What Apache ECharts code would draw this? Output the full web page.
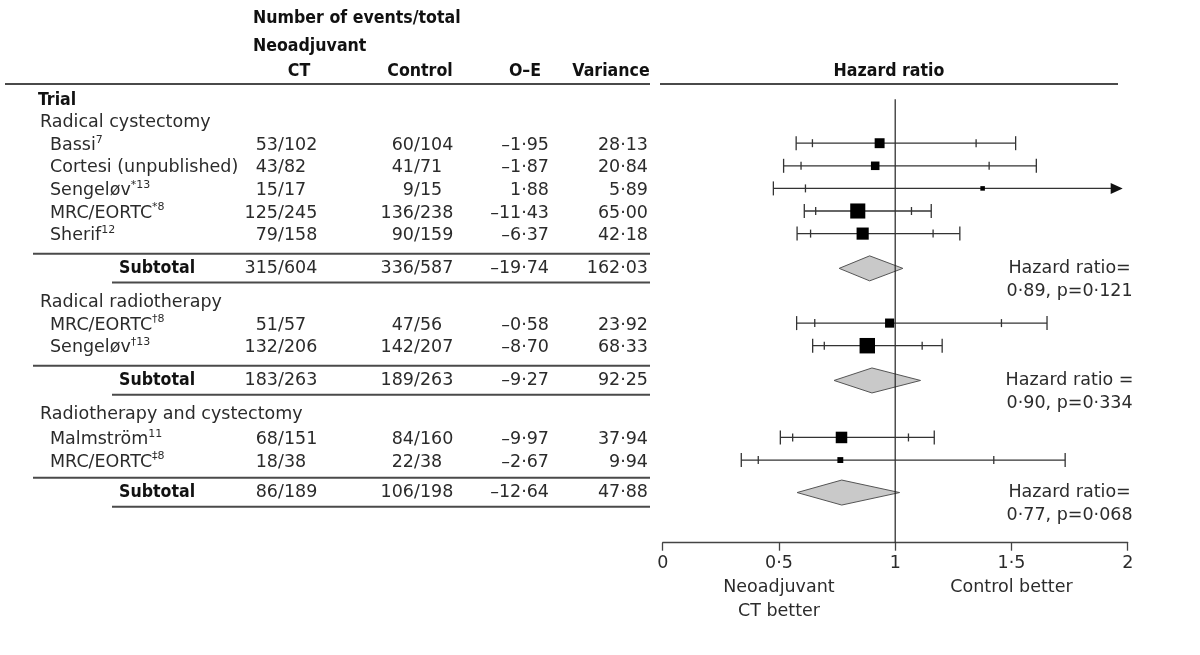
<!DOCTYPE html>
<html><head><meta charset="utf-8">
<script src="https://cdn.jsdelivr.net/npm/echarts@6/dist/echarts.min.js"></script>
<style>html,body{margin:0;padding:0;background:#fff}#c{width:1200px;height:655px}</style>
</head><body><div id="c"></div>
<script>
// ---------------- data ----------------
const groupNames = ['Radical cystectomy', 'Radical radiotherapy', 'Radiotherapy and cystectomy'];
const trialNames = ['Bassi', 'Cortesi (unpublished)', 'Sengeløv', 'MRC/EORTC', 'Sherif', 'MRC/EORTC', 'Sengeløv', 'Malmström', 'MRC/EORTC'];
const trialRefs = ['7', '', '*13', '*8', '12', '†8', '†13', '11', '‡8'];
const trialGroup = [0, 0, 0, 0, 0, 1, 1, 2, 2];
const ctEvents = ['53/102', '43/82', '15/17', '125/245', '79/158', '51/57', '132/206', '68/151', '18/38'];
const controlEvents = ['60/104', '41/71', '9/15', '136/238', '90/159', '47/56', '142/207', '84/160', '22/38'];
const oMinusE = [-1.95, -1.87, 1.88, -11.43, -6.37, -0.58, -8.70, -9.97, -2.67];
const variance = [28.13, 20.84, 5.89, 65.00, 42.18, 23.92, 68.33, 37.94, 9.94];
const hazardRatio = [0.933, 0.914, 1.376, 0.839, 0.860, 0.976, 0.880, 0.769, 0.764];
const ci95Low = [0.644, 0.595, 0.614, 0.658, 0.636, 0.654, 0.695, 0.559, 0.411];
const ci95High = [1.348, 1.404, 3.086, 1.070, 1.163, 1.457, 1.116, 1.057, 1.424];
const ci99Low = [0.574, 0.520, 0.476, 0.609, 0.578, 0.576, 0.645, 0.506, 0.338];
const ci99High = [1.518, 1.607, 3.977, 1.155, 1.278, 1.653, 1.202, 1.168, 1.731];

const subtotalCT = ['315/604', '183/263', '86/189'];
const subtotalControl = ['336/587', '189/263', '106/198'];
const subtotalOE = [-19.74, -9.27, -12.64];
const subtotalVariance = [162.03, 92.25, 47.88];
const subtotalHR = [0.89, 0.90, 0.77];
const subtotalLow = [0.759, 0.737, 0.578];
const subtotalHigh = [1.033, 1.109, 1.019];
const subtotalP = ['0·121', '0·334', '0·068'];
const subtotalHRLabel = ['Hazard ratio=', 'Hazard ratio =', 'Hazard ratio='];

const hrTicks = [0, 0.5, 1, 1.5, 2];
const tickNotes = { '0.5': ['Neoadjuvant', 'CT better'], '1.5': ['Control better'] };
const headerTitle = 'Number of events/total';
const headerSub = 'Neoadjuvant';
const columnHeads = ['CT', 'Control', 'O–E', 'Variance'];
const plotTitle = 'Hazard ratio';

// ---------------- layout ----------------
const UNIT = 22.6;                 // px per row
const AXIS_Y = 542.7;              // px of x axis line
const Y_MIN = -100 / UNIT;
const Y_MAX = Y_MIN + AXIS_Y / UNIT;
const PLOT_L = 662.7, PLOT_R = 1127.7;
const COL = { trialHead: 38, group: 40, name: 50, subtotal: 119, ctSlash: 278, ctrlSlash: 414,
  oeRight: 549, varRight: 648, headLeft: 253, heads: [299, 420, 525, 611], hrHead: 889, annotX: 1.75 };
const RULE = { fullL: 5, fullR: 650, trialL: 33, subL: 112, hrL: 660, hrR: 1118 };
const HEAD_ROWS = { title: -3.63, sub: -2.39, cols: -1.28, rule: -0.71 };

const BODY_FONT = '"DejaVu Sans", "Noto Sans", sans-serif';
const BODY_SIZE = 17.5;
const HEAD_FONT = '"DejaVu Sans Condensed", "Liberation Sans Narrow", "Liberation Sans", sans-serif';
const TXT = '#2b2b2b';

// compute row positions
let pos = 0;
const groupY = [], trialY = [], subY = [], ruleA = [], ruleB = [];
groupNames.forEach((g, gi) => {
  pos += gi === 0 ? 1 : 0.88;
  groupY[gi] = pos;
  trialGroup.forEach((tg, ti) => { if (tg === gi) { pos += (gi === 2 && tg === 2 && trialY.length === 7) ? 1.1 : 1; trialY[ti] = pos; } });
  pos += gi === 2 ? 0.7 : 0.8; ruleA[gi] = pos;
  pos += 0.65; subY[gi] = pos;
  pos += 0.63; ruleB[gi] = pos;
});

const fmt = v => (v < 0 ? '–' : '') + Math.abs(v).toFixed(2).replace('.', '·');
const fmtTick = v => String(v).replace('.', '·');

// ---------------- text items ----------------
const texts = [];
function txt(x, y, text, align, extra) {
  const position = align === 'left' ? 'right' : align === 'right' ? 'left' : 'inside';
  texts.push({ value: [x, y], label: Object.assign({ show: true, position, distance: 0, formatter: text,
    fontFamily: BODY_FONT, fontSize: BODY_SIZE, color: TXT }, extra || {}) });
}
const bold = { fontFamily: HEAD_FONT, fontWeight: 'bold', fontSize: 17.6, color: '#111' };
const frac = (anchor, y, s) => { const [a, b] = s.split('/'); txt(anchor, y, a, 'right'); txt(anchor, y, '/' + b, 'left'); };

txt(COL.headLeft, HEAD_ROWS.title, headerTitle, 'left', bold);
txt(COL.headLeft, HEAD_ROWS.sub, headerSub, 'left', bold);
columnHeads.forEach((h, i) => txt(COL.heads[i], HEAD_ROWS.cols, h, 'center', bold));
txt(COL.hrHead, HEAD_ROWS.cols, plotTitle, 'center', bold);
txt(COL.trialHead, 0, 'Trial', 'left', bold);

const nameRich = { n: { fontFamily: BODY_FONT, fontSize: BODY_SIZE, color: TXT, lineHeight: 22 },
  s: { fontFamily: BODY_FONT, fontSize: 11, color: TXT, lineHeight: 12, verticalAlign: 'top' } };

groupNames.forEach((g, gi) => {
  txt(COL.group, groupY[gi], g, 'left');
  txt(COL.subtotal, subY[gi], 'Subtotal', 'left', bold);
  frac(COL.ctSlash, subY[gi], subtotalCT[gi]);
  frac(COL.ctrlSlash, subY[gi], subtotalControl[gi]);
  txt(COL.oeRight, subY[gi], fmt(subtotalOE[gi]), 'right');
  txt(COL.varRight, subY[gi], fmt(subtotalVariance[gi]), 'right');
});
trialNames.forEach((n, i) => {
  const label = '{n|' + n + '}' + (trialRefs[i] ? '{s|' + trialRefs[i] + '}' : '');
  txt(COL.name, trialY[i], label, 'left', { rich: nameRich });
  frac(COL.ctSlash, trialY[i], ctEvents[i]);
  frac(COL.ctrlSlash, trialY[i], controlEvents[i]);
  txt(COL.oeRight, trialY[i], fmt(oMinusE[i]), 'right');
  txt(COL.varRight, trialY[i], fmt(variance[i]), 'right');
});

// rules
const rules = [[RULE.fullL, RULE.fullR, HEAD_ROWS.rule], [RULE.hrL, RULE.hrR, HEAD_ROWS.rule]];
groupNames.forEach((g, gi) => { rules.push([RULE.trialL, RULE.fullR, ruleA[gi]]); rules.push([RULE.subL, RULE.fullR, ruleB[gi]]); });

// annotations in plot
const annots = groupNames.map((g, gi) => ({
  value: [COL.annotX, subY[gi] + 0.5],
  label: { show: true, position: 'inside', formatter: '{a|' + subtotalHRLabel[gi] + '}\n{a|' + fmtTick(subtotalHR[gi].toFixed(2)) + ', p=' + subtotalP[gi] + '}',
    rich: { a: { fontFamily: BODY_FONT, fontSize: BODY_SIZE, color: TXT, lineHeight: 23, align: 'center' } } }
}));

// ---------------- chart ----------------
const chart = echarts.init(document.getElementById('c'), null, { renderer: 'canvas' });
const yAxisCommon = { type: 'value', min: Y_MIN, max: Y_MAX, inverse: true, show: false };
const textSeries = { type: 'scatter', symbolSize: 0, silent: true, clip: false, z: 5,
  itemStyle: { opacity: 1 }, emphasis: { disabled: true } };
chart.setOption({
  animation: false,
  backgroundColor: '#fff',
  grid: [
    { left: 0, right: 0, top: 0, bottom: 655 - AXIS_Y },
    { left: PLOT_L, right: 1200 - PLOT_R, top: 0, bottom: 655 - AXIS_Y }
  ],
  xAxis: [
    { gridIndex: 0, type: 'value', min: 0, max: 1200, show: false },
    { gridIndex: 1, type: 'value', position: 'bottom', min: hrTicks[0], max: hrTicks[hrTicks.length - 1], interval: 0.5,
      splitLine: { show: false },
      axisLine: { show: true, onZero: false, lineStyle: { color: '#444', width: 1.3 } },
      axisTick: { show: true, length: 8, lineStyle: { color: '#444', width: 1.3 } },
      axisLabel: { margin: 9, formatter: v => {
          const notes = tickNotes[String(v)];
          let s = '{t|' + fmtTick(v) + '}';
          if (notes) s += '\n' + notes.map(n => '{t|' + n + '}').join('\n');
          return s;
        },
        rich: { t: { fontFamily: BODY_FONT, fontSize: BODY_SIZE, color: TXT, lineHeight: 24, align: 'center' } } } }
  ],
  yAxis: [Object.assign({ gridIndex: 0 }, yAxisCommon), Object.assign({ gridIndex: 1 }, yAxisCommon)],
  series: [
    { type: 'custom', xAxisIndex: 0, yAxisIndex: 0, clip: false, silent: true, z: 1,
      data: rules,
      renderItem(params, api) {
        const a = api.coord([api.value(0), api.value(2)]);
        const b = api.coord([api.value(1), api.value(2)]);
        return { type: 'line', shape: { x1: a[0], y1: a[1], x2: b[0], y2: b[1] }, style: { stroke: '#4a4a4a', lineWidth: 2 } };
      } },
    Object.assign({ xAxisIndex: 0, yAxisIndex: 0, data: texts }, textSeries),
    // diamonds
    { type: 'custom', xAxisIndex: 1, yAxisIndex: 1, clip: false, silent: true, z: 2,
      data: groupNames.map((g, gi) => [subtotalLow[gi], subtotalHR[gi], subtotalHigh[gi], subY[gi]]),
      encode: { x: [0, 1, 2], y: 3 },
      renderItem(params, api) {
        const y = api.coord([0, api.value(3)])[1];
        const lo = api.coord([api.value(0), 0])[0], c = api.coord([api.value(1), 0])[0], hi = api.coord([api.value(2), 0])[0];
        const h = 12.5;
        return { type: 'polygon', shape: { points: [[lo, y], [c, y - h], [hi, y], [c, y + h]] },
          style: { fill: '#c9c9c9', stroke: '#555', lineWidth: 1 } };
      } },
    // reference line at HR = 1
    { type: 'line', xAxisIndex: 1, yAxisIndex: 1, symbol: 'none', silent: true, z: 3,
      data: [[1, -0.03], [1, Y_MAX]], lineStyle: { color: '#222', width: 1.2 } },
    // trials
    { type: 'custom', xAxisIndex: 1, yAxisIndex: 1, clip: false, silent: true, z: 4,
      data: trialNames.map((n, i) => [ci99Low[i], ci95Low[i], hazardRatio[i], ci95High[i], ci99High[i], trialY[i], variance[i]]),
      encode: { x: [0, 1, 2, 3, 4], y: 5 },
      renderItem(params, api) {
        const xMax = hrTicks[hrTicks.length - 1];
        const y = api.coord([0, api.value(5)])[1] - 2;
        const px = v => api.coord([Math.min(v, xMax), 0])[0];
        const ls = { stroke: '#333', lineWidth: 1.3 };
        const kids = [];
        const hi95 = api.value(3), hi99 = api.value(4);
        const lo99 = px(api.value(0)), lo95 = px(api.value(1)), c = px(api.value(2));
        const clipped = hi99 > xMax;
        const tip = px(xMax) - 5;
        const right = clipped ? tip - 11 : px(hi99);
        kids.push({ type: 'line', shape: { x1: lo99, y1: y, x2: right, y2: y }, style: ls });
        const tick = (x, h) => ({ type: 'line', shape: { x1: x, y1: y - h / 2, x2: x, y2: y + h / 2 }, style: ls });
        kids.push(tick(lo99, 14), tick(lo95, 8));
        if (hi95 <= xMax) kids.push(tick(px(hi95), 8));
        if (!clipped) kids.push(tick(px(hi99), 14));
        else kids.push({ type: 'polygon', shape: { points: [[tip - 12, y - 5.5], [tip, y], [tip - 12, y + 5.5]] }, style: { fill: '#111' } });
        const s = 1.87 * Math.sqrt(api.value(6));
        kids.push({ type: 'rect', shape: { x: c - s / 2, y: y - s / 2, width: s, height: s }, style: { fill: '#000' } });
        return { type: 'group', children: kids };
      } },
    Object.assign({ xAxisIndex: 1, yAxisIndex: 1, data: annots }, textSeries)
  ]
});
</script></body></html>
